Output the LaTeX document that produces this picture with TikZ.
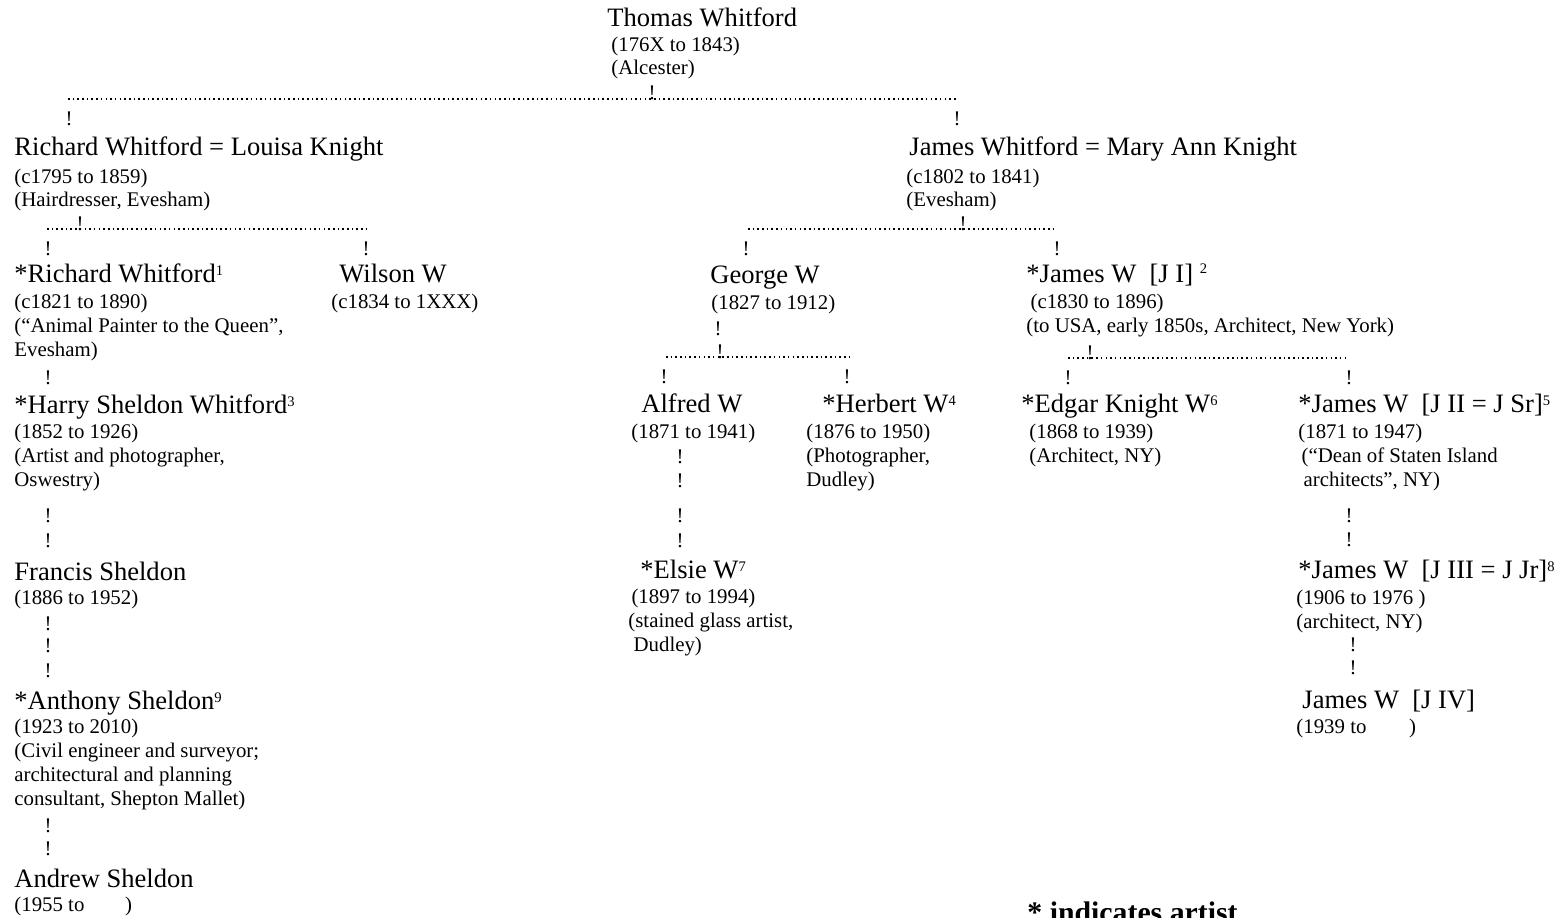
\documentclass[tikz,border=0pt]{standalone}
\usepackage{fontspec}
\setmainfont{Liberation Serif}
\newcommand\supnum[1]{\raisebox{3pt}{\fontsize{7}{8}\selectfont #1}}
\begin{document}
\begin{tikzpicture}[x=0.48pt,y=-0.48pt,
  name node/.style={anchor=base west,inner sep=0pt,font=\fontsize{12.75}{14}\selectfont},
  info node/.style={anchor=base west,inner sep=0pt,align=left,font=\fontsize{10}{11.5}\selectfont},
  bang/.style={anchor=base,inner sep=0pt,font=\fontsize{10}{11.5}\selectfont},
  dots/.style={line width=0.75pt,dash pattern=on 0.75pt off 1.5pt}]
\useasboundingbox[fill=white] (0,0) rectangle (1555,917);
% generation 1 and 2 (info nodes sit on the baseline of their last line)
\node[name node] (tw) at (607,27) {Thomas Whitford};
\node[info node] (twi) at (611,75) {(176X to 1843)\\(Alcester)};
\node[name node] (rw) at (14,156) {Richard Whitford = Louisa Knight};
\node[info node] (rwi) at (14,207) {(c1795 to 1859)\\(Hairdresser, Evesham)};
\node[name node] (jw) at (909,156) {James Whitford = Mary Ann Knight};
\node[info node] (jwi) at (906,207) {(c1802 to 1841)\\(Evesham)};
% Richard's line
\node[name node] (rw2) at (14,282) {*Richard Whitford\supnum{1}};
\node[info node] (rw2i) at (14,356) {(c1821 to 1890)\\(“Animal Painter to the Queen”,\\Evesham)};
\node[name node] (ww) at (339,282) {Wilson W};
\node[info node] (wwi) at (331,308) {(c1834 to 1XXX)};
\node[name node] (hsw) at (14,413) {*Harry Sheldon Whitford\supnum{3}};
\node[info node] (hswi) at (14,486) {(1852 to 1926)\\(Artist and photographer,\\Oswestry)};
\node[name node] (fs) at (14,580) {Francis Sheldon};
\node[info node] (fsi) at (14,604) {(1886 to 1952)};
\node[name node] (as) at (14,709) {*Anthony Sheldon\supnum{9}};
\node[info node] (asi) at (14,805) {(1923 to 2010)\\(Civil engineer and surveyor;\\architectural and planning\\consultant, Shepton Mallet)};
\node[name node] (ans) at (14,887) {Andrew Sheldon};
\node[info node] (ansi) at (14,911) {(1955 to \hspace{17pt})};
% George's line
\node[name node] (gw) at (710,283) {George W};
\node[info node] (gwi) at (711,309) {(1827 to 1912)};
\node[name node] (aw) at (641,412) {Alfred W};
\node[info node] (awi) at (631,438) {(1871 to 1941)};
\node[name node] (hw) at (822,412) {*Herbert W\supnum{4}};
\node[info node] (hwi) at (806,486) {(1876 to 1950)\\(Photographer,\\Dudley)};
\node[name node] (ew) at (640,578) {*Elsie W\supnum{7}};
\node[info node] (ewi) at (628,651) {\hspace*{1.5pt}(1897 to 1994)\\(stained glass artist,\\\hspace*{2.5pt}Dudley)};
% James's line
\node[name node] (jw1) at (1026,282) {*James W\ \ [J I] \raisebox{1pt}{\supnum{2}}};
\node[info node] (jw1i) at (1026,332) {\hspace*{2pt}(c1830 to 1896)\\(to USA, early 1850s, Architect, New York)};
\node[name node] (ekw) at (1021,412) {*Edgar Knight W\supnum{6}};
\node[info node] (ekwi) at (1029,462) {(1868 to 1939)\\(Architect, NY)};
\node[name node] (jw2) at (1298,412) {*James W\ \ [J II = J Sr]\supnum{5}};
\node[info node] (jw2i) at (1298,486) {(1871 to 1947)\\\hspace*{1.5pt}(“Dean of Staten Island\\\hspace*{2.5pt}architects”, NY)};
\node[name node] (jw3) at (1298,578) {*James W\ \ [J III = J Jr]\supnum{8}};
\node[info node] (jw3i) at (1296,628) {(1906 to 1976 )\\(architect, NY)};
\node[name node] (jw4) at (1302,708) {James W\ \ [J IV]};
\node[info node] (jw4i) at (1296,733) {(1939 to \hspace{18pt})};
\node[anchor=base west,inner sep=0pt,font=\fontsize{14.3}{16}\selectfont\bfseries] (key) at (1027,922) {* indicates artist};
% dotted bars
\coordinate (r1a) at (68,99);   \coordinate (r1b) at (957,99);
\coordinate (r2a) at (47,229);  \coordinate (r2b) at (367,229);
\coordinate (r3a) at (748,229); \coordinate (r3b) at (1056,229);
\coordinate (r4a) at (666,357); \coordinate (r4b) at (851,357);
\coordinate (r5a) at (1068,358); \coordinate (r5b) at (1346,358);
\draw[dots] (r1a) -- (r1b);
\draw[dots] (r2a) -- (r2b);
\draw[dots] (r3a) -- (r3b);
\draw[dots] (r4a) -- (r4b);
\draw[dots] (r5a) -- (r5b);
% uprights
\node[bang] (b1) at (652,100) {!};
\node[bang] (b2) at (69,126) {!};
\node[bang] (b3) at (957,126) {!};
\node[bang] (b4) at (80,230) {!};
\node[bang] (b5) at (48,255) {!};
\node[bang] (b6) at (366,255) {!};
\node[bang] (b7) at (963,230) {!};
\node[bang] (b8) at (746,255) {!};
\node[bang] (b9) at (1057,255) {!};
\node[bang] (b10) at (48,384) {!};
\node[bang] (b11) at (48,522) {!};
\node[bang] (b12) at (48,547) {!};
\node[bang] (b13) at (48,630) {!};
\node[bang] (b14) at (48,652) {!};
\node[bang] (b15) at (48,677) {!};
\node[bang] (b16) at (48,832) {!};
\node[bang] (b17) at (48,855) {!};
\node[bang] (b18) at (718,335) {!};
\node[bang] (b19) at (720,358) {!};
\node[bang] (b20) at (664,383) {!};
\node[bang] (b21) at (847,383) {!};
\node[bang] (b22) at (680,463) {!};
\node[bang] (b23) at (680,487) {!};
\node[bang] (b24) at (680,522) {!};
\node[bang] (b25) at (680,547) {!};
\node[bang] (b26) at (1090,359) {!};
\node[bang] (b27) at (1068,384) {!};
\node[bang] (b28) at (1349,384) {!};
\node[bang] (b29) at (1349,522) {!};
\node[bang] (b30) at (1349,546) {!};
\node[bang] (b31) at (1353,651) {!};
\node[bang] (b32) at (1353,674) {!};
\end{tikzpicture}
\end{document}
